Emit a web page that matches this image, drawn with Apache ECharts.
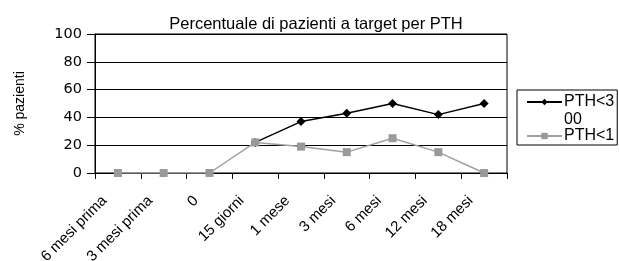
<!DOCTYPE html>
<html>
<head>
<meta charset="utf-8">
<script src="https://cdn.jsdelivr.net/npm/echarts@6/dist/echarts.min.js"></script>
<style>
  html, body { margin: 0; padding: 0; background: #fff; }
  #chart { width: 619px; height: 261px; }
</style>
</head>
<body>
<div id="chart"></div>
<script>
// dati
var categories = ['6 mesi prima', '3 mesi prima', '0', '15 giorni', '1 mese', '3 mesi', '6 mesi', '12 mesi', '18 mesi']
var pth300 = [null, null, null, 22, 37, 43, 50, 42, 50]
var pth100 = [0, 0, 0, 22, 19, 15, 25, 15, 0]
var yTicks = [0, 20, 40, 60, 80, 100]

var font = 'Liberation Sans, Arial, sans-serif'
var chart = echarts.init(document.getElementById('chart'))

chart.setOption({
  animation: false,
  title: {
    text: 'Percentuale di pazienti a target per PTH',
    left: 311,
    textAlign: 'center',
    top: 11,
    textStyle: { fontFamily: font, fontSize: 16.5, fontWeight: 'normal', color: '#000' }
  },
  grid: {
    left: 95,
    right: 112,
    top: 34,
    bottom: 88,
    outerBoundsMode: 'none',
    containLabel: false,
    show: true,
    borderColor: '#000',
    borderWidth: 1
  },
  legend: {
    orient: 'vertical',
    left: 517,
    top: 90,
    padding: [4, 3, 1, 9],
    borderColor: '#000',
    borderWidth: 1,
    itemWidth: 35,
    itemHeight: 8,
    itemGap: 18,
    textStyle: { fontFamily: font, fontSize: 16, color: '#000', padding: [0, 0, 0, -3] },
    data: ['PTH<3', 'PTH<1']
  },
  graphic: [{
    type: 'text',
    left: 564,
    top: 112,
    style: { text: '00', font: '16px ' + font, fill: '#000' }
  }],
  xAxis: {
    type: 'category',
    data: categories,
    boundaryGap: true,
    axisLine: { lineStyle: { color: '#000', width: 1 } },
    axisTick: { show: true, length: 6, lineStyle: { color: '#000' } },
    axisLabel: { rotate: 45, margin: 12, padding: [0, 19, 0, 0], color: '#000', fontFamily: font, fontSize: 15, interval: 0 },
    splitLine: { show: false }
  },
  yAxis: {
    type: 'value',
    min: yTicks[0],
    max: yTicks[yTicks.length - 1],
    interval: 20,
    name: '% pazienti',
    nameLocation: 'middle',
    nameGap: 68,
    nameTextStyle: { fontFamily: font, fontSize: 14, color: '#000' },
    axisLine: { show: true, lineStyle: { color: '#000', width: 1 } },
    axisTick: { show: true, length: 8, lineStyle: { color: '#000' } },
    axisLabel: { margin: 13, color: '#000', fontFamily: 'DejaVu Sans, sans-serif', fontSize: 14.5 },
    splitLine: { show: true, lineStyle: { color: '#000', width: 1 } }
  },
  series: [{
    name: 'PTH<3',
    type: 'line',
    data: pth300,
    symbol: 'diamond',
    symbolSize: 9,
    lineStyle: { color: '#000', width: 1.5 },
    itemStyle: { color: '#000' },
    z: 3
  }, {
    name: 'PTH<1',
    type: 'line',
    data: pth100,
    symbol: 'rect',
    symbolSize: 8,
    lineStyle: { color: '#a0a0a0', width: 1.5 },
    itemStyle: { color: '#999999' },
    z: 4
  }]
})
</script>
</body>
</html>
